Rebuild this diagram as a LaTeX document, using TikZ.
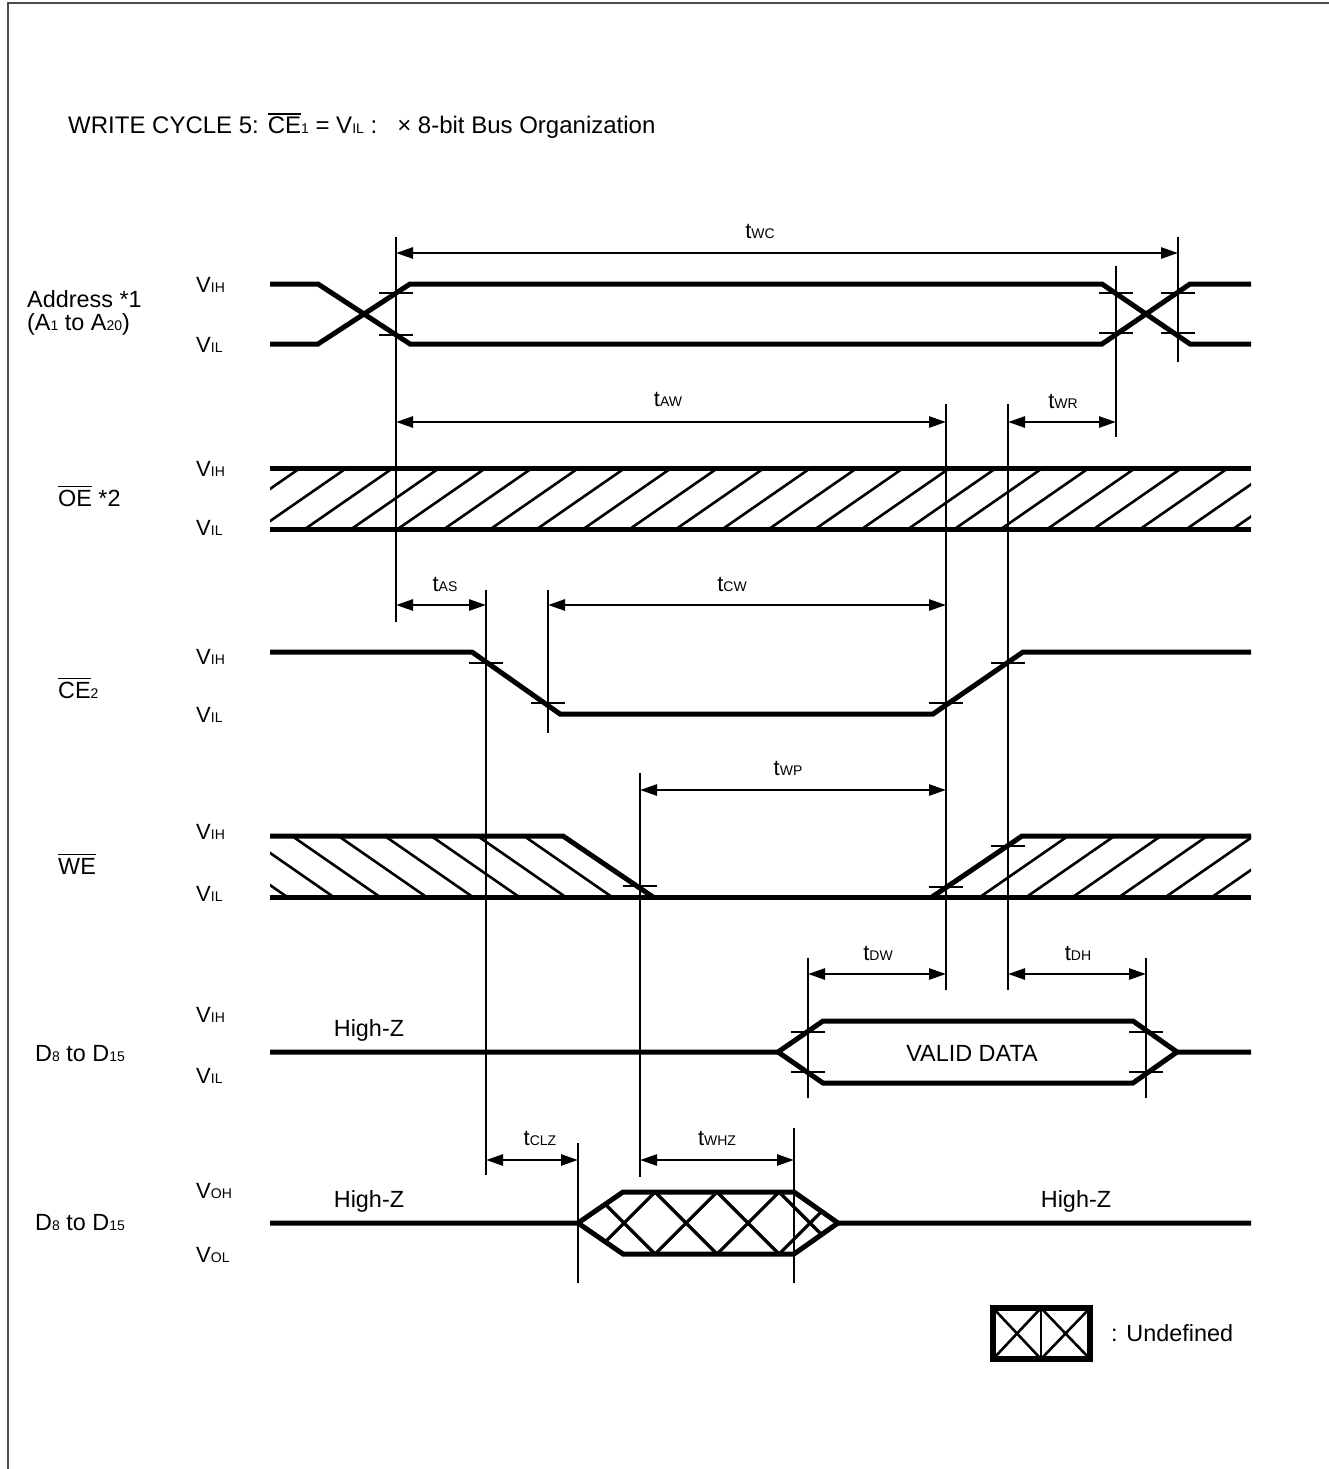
\documentclass[tikz,border=0pt]{standalone}
\usepackage{fontspec}
\setmainfont{Liberation Sans}
\usetikzlibrary{arrows.meta}
\newcommand\sbs[1]{{\fontsize{14}{14}\selectfont #1}}
\newcommand\ovl[1]{\setbox0\hbox{#1}\rlap{\raisebox{\dimexpr\ht0+2.5pt\relax}{\rule{\wd0}{1.5pt}}}\box0\relax}
\tikzset{
  sig/.style={line width=5pt, line join=miter},
  refl/.style={line width=2.6pt},
  hat/.style={line width=2.6pt},
  xhat/.style={line width=3.2pt},
  tck/.style={line width=2.6pt},
  dimarrow/.style={line width=2.6pt, {Triangle[length=17pt,width=11pt]}-{Triangle[length=17pt,width=11pt]}},
  lab/.style={font=\fontsize{23.4}{27}\selectfont, inner sep=0pt, anchor=base west},
  vlab/.style={font=\fontsize{22}{26}\selectfont, inner sep=0pt, anchor=base west},
  tlab/.style={font=\fontsize{22}{26}\selectfont, inner sep=0pt, anchor=base},
  clab/.style={font=\fontsize{23.4}{27}\selectfont, inner sep=0pt, anchor=base},
}
\begin{document}
\begin{tikzpicture}[x=1pt,y=-1pt]
\useasboundingbox (0,0) rectangle (1329,1469);
% frame
\draw[gray!60!black, line width=2pt] (8,1469) -- (8,3) -- (1329,3);
% title
\node[lab] (title) at (68,134) {\fontsize{24}{28}\selectfont WRITE CYCLE 5: \ovl{CE}\sbs{1} = V\sbs{IL} :\ \ \ × 8-bit Bus Organization};
% left signal names
\node[lab] (addr1) at (27,307) {Address *1};
\node[lab] (addr2) at (27,330) {(A\sbs{1} to A\sbs{20})};
\node[lab] (oe) at (58,506) {\ovl{OE} *2};
\node[lab] (ce) at (58,698) {\ovl{CE}\sbs{2}};
\node[lab] (we) at (58,874) {\ovl{WE}};
\node[lab] (d1) at (35,1061) {D\sbs{8} to D\sbs{15}};
\node[lab] (d2) at (35,1230) {D\sbs{8} to D\sbs{15}};
% level labels
\node[vlab] (a1) at (196,292) {V\sbs{IH}};
\node[vlab] (a2) at (196,352) {V\sbs{IL}};
\node[vlab] (o1) at (196,476) {V\sbs{IH}};
\node[vlab] (o2) at (196,535) {V\sbs{IL}};
\node[vlab] (c1) at (196,664) {V\sbs{IH}};
\node[vlab] (c2) at (196,722) {V\sbs{IL}};
\node[vlab] (w1) at (196,839) {V\sbs{IH}};
\node[vlab] (w2) at (196,901) {V\sbs{IL}};
\node[vlab] (e1) at (196,1022) {V\sbs{IH}};
\node[vlab] (e2) at (196,1083) {V\sbs{IL}};
\node[vlab] (f1) at (196,1198) {V\sbs{OH}};
\node[vlab] (f2) at (196,1262) {V\sbs{OL}};

% ---------- Address ----------
\draw[sig] (270,284) -- (318,284) -- (410,344) -- (1102,344) -- (1190,284) -- (1251,284);
\draw[sig] (270,344) -- (318,344) -- (410,284) -- (1102,284) -- (1190,344) -- (1251,344);

% ---------- OE ----------
\begin{scope}
\clip (270,468) rectangle (1251,529);
\foreach \k in {-3,...,22}{\draw[hat] ({305+46.4*\k},529) -- ++(88,-61);}
\end{scope}
\draw[sig] (270,468) -- (1251,468);
\draw[sig] (270,529) -- (1251,529);

% ---------- CE2 ----------
\draw[sig] (270,652) -- (472,652) -- (560,714) -- (933,714) -- (1023,652) -- (1251,652);

% ---------- WE ----------
\begin{scope}
\clip (270,836) -- (563,836) -- (653,897) -- (270,897) -- cycle;
\foreach \k in {-3,...,8}{\draw[hat] ({292+46.4*\k},836) -- ++(88,61);}
\end{scope}
\begin{scope}
\clip (932,897) -- (1022,836) -- (1251,836) -- (1251,897) -- cycle;
\foreach \k in {-3,...,8}{\draw[hat] ({980+46.4*\k},897) -- ++(88,-61);}
\end{scope}
\draw[sig] (270,836) -- (563,836) -- (653,897);
\draw[sig] (270,897) -- (1251,897);
\draw[sig] (932,897) -- (1022,836) -- (1251,836);

% ---------- D (input) ----------
\draw[sig] (270,1052) -- (778,1052) -- (823,1021) -- (1133,1021) -- (1177,1052) -- (1251,1052);
\draw[sig] (778,1052) -- (823,1083) -- (1133,1083) -- (1177,1052);
\node[clab] (valid) at (972,1061) {VALID DATA};
\node[clab] (hz1) at (369,1036) {High-Z};

% ---------- D (output) ----------
\begin{scope}
\clip (578,1223) -- (623,1192) -- (794,1192) -- (838,1223) -- (794,1254) -- (623,1254) -- cycle;
\foreach \k in {-3,...,5}{
  \draw[xhat] ({593+62*\k},1192) -- ++(62,62);
  \draw[xhat] ({593+62*\k},1254) -- ++(62,-62);
}
\end{scope}
\draw[sig] (270,1223) -- (578,1223) -- (623,1192) -- (794,1192) -- (838,1223) -- (1251,1223);
\draw[sig] (578,1223) -- (623,1254) -- (794,1254) -- (838,1223);
\node[clab] (hz2) at (369,1207) {High-Z};
\node[clab] (hz3) at (1076,1207) {High-Z};

% ---------- reference lines ----------
\foreach \xx/\ya/\yb in {396/237/622, 1178/237/362, 1116/266/437, 946/404/990, 1008/404/990,
  486/590/1175, 548/590/733, 640/773/1177, 808/958/1098, 1146/958/1098, 578/1143/1283, 794/1128/1283}{
  \draw[refl] (\xx,\ya) -- (\xx,\yb);
}
% ticks
\foreach \xx/\yy in {396/293, 396/335, 1116/293, 1116/333, 1178/293, 1178/333,
  486/663, 548/703, 946/703, 1008/663, 640/886, 946/887, 1008/846,
  808/1032, 808/1072, 1146/1032, 1146/1072}{
  \draw[tck] (\xx-17,\yy) -- (\xx+17,\yy);
}

% ---------- dimensions ----------
\draw[dimarrow] (396,253) -- (1178,253);
\node[tlab] (twc) at (760,238) {t\sbs{WC}};
\draw[dimarrow] (396,422) -- (946,422);
\node[tlab] (taw) at (668,406) {t\sbs{AW}};
\draw[dimarrow] (1008,422) -- (1116,422);
\node[tlab] (twr) at (1063,408) {t\sbs{WR}};
\draw[dimarrow] (396,605) -- (486,605);
\node[tlab] (tas) at (445,591) {t\sbs{AS}};
\draw[dimarrow] (548,605) -- (946,605);
\node[tlab] (tcw) at (732,591) {t\sbs{CW}};
\draw[dimarrow] (640,790) -- (946,790);
\node[tlab] (twp) at (788,775) {t\sbs{WP}};
\draw[dimarrow] (808,974) -- (946,974);
\node[tlab] (tdw) at (878,960) {t\sbs{DW}};
\draw[dimarrow] (1008,974) -- (1146,974);
\node[tlab] (tdh) at (1078,960) {t\sbs{DH}};
\draw[dimarrow] (486,1160) -- (578,1160);
\node[tlab] (tclz) at (540,1145) {t\sbs{CLZ}};
\draw[dimarrow] (640,1160) -- (794,1160);
\node[tlab] (twhz) at (717,1145) {t\sbs{WHZ}};

% ---------- legend ----------
\draw[line width=6pt] (993,1308) rectangle (1090,1359);
\draw[hat] (1041,1308) -- (1041,1359);
\draw[hat] (993,1308) -- (1041,1359) (993,1359) -- (1041,1308);
\draw[hat] (1041,1308) -- (1090,1359) (1041,1359) -- (1090,1308);
\node[lab] (undef) at (1111,1341) {: Undefined};
\end{tikzpicture}
\end{document}
